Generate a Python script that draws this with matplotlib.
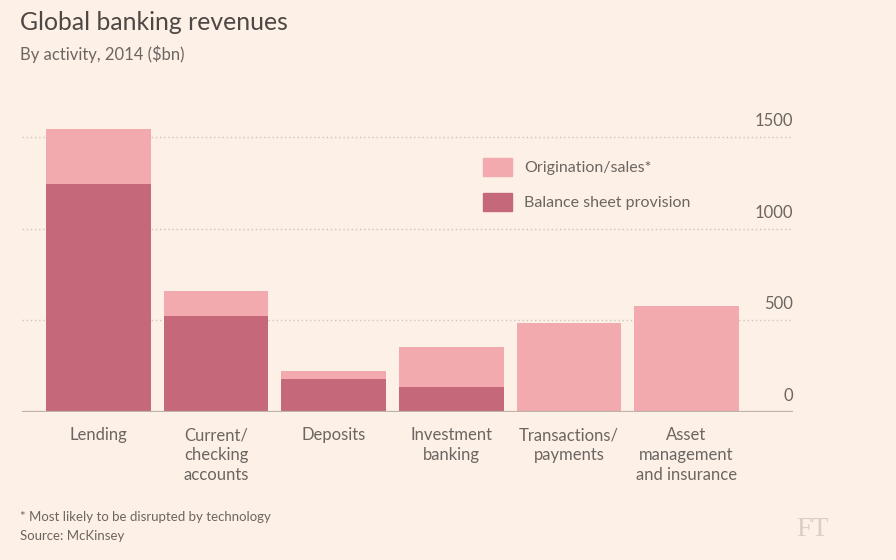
import matplotlib
matplotlib.use("Agg")
import matplotlib.pyplot as plt
import matplotlib.transforms as mtransforms
from matplotlib.patches import Rectangle

plt.rcParams['font.family'] = ['Lato', 'DejaVu Sans']

categories = ["Lending", "Current/\nchecking\naccounts", "Deposits", "Investment\nbanking",
              "Transactions/\npayments", "Asset\nmanagement\nand insurance"]
balance_sheet = [1243, 525, 177, 133, 0, 0]
origination = [303, 135, 45, 219, 486, 578]
yticks = [0, 500, 1000, 1500]
series_names = ["Origination/sales*", "Balance sheet provision"]

bg = "#fdf0e6"
light = "#f2aaae"
dark = "#c4687a"
text_col = "#6b6662"

fig = plt.figure(figsize=(8.96, 5.6), dpi=100, facecolor=bg)
ax = fig.add_axes([22/896, 1 - 411.7/560, (793 - 22)/896, (411.7 - 118.9)/560])
ax.set_facecolor(bg)

x = list(range(len(categories)))
ax.bar(x, balance_sheet, width=0.89, color=dark, zorder=3)
ax.bar(x, origination, bottom=balance_sheet, width=0.89, color=light, zorder=3)

ax.set_xlim(-0.65, 5.906)
ax.set_ylim(0, 1600)

for s in ax.spines.values():
    s.set_visible(False)
ax.set_xticks([])
ax.set_yticks([])

for v in yticks[1:]:
    ax.axhline(v, color="#cfc5bd", lw=1.0, ls=(0, (1, 2)), zorder=1)
ax.axhline(0, color="#bdb3ab", lw=1.6, zorder=4)

off = mtransforms.offset_copy(ax.get_yaxis_transform(), fig=fig, x=0, y=8, units='dots')
for v in yticks:
    ax.text(1.0, v, str(v), transform=off, ha='right', va='bottom',
            fontsize=12, color=text_col)

for xi, c in zip(x, categories):
    ax.text(xi, -0.053, c, transform=ax.get_xaxis_transform(), ha='center', va='top',
            fontsize=12, color=text_col, linespacing=1.3)

# legend
for i, (name, col) in enumerate(zip(series_names, [light, dark])):
    y0 = 158 + i * 35
    fig.patches.append(Rectangle((483/896, 1 - (y0 + 18)/560), 29/896, 18/560,
                                 transform=fig.transFigure, color=col))
    fig.text(524/896, 1 - (y0 + 10)/560, name, ha='left', va='center',
             fontsize=11.5, color=text_col)

fig.text(20/896, 1 - 23/560, "Global banking revenues", ha='left', va='center',
         fontsize=17.8, color="#4d4845")
fig.text(20/896, 1 - 54/560, "By activity, 2014 ($bn)", ha='left', va='center',
         fontsize=12, color=text_col)
fig.text(20/896, 1 - 517/560, "* Most likely to be disrupted by technology", ha='left',
         va='center', fontsize=9.5, color=text_col)
fig.text(20/896, 1 - 536/560, "Source: McKinsey", ha='left', va='center',
         fontsize=9.5, color=text_col)
fig.text(812/896, 1 - 530/560, "FT", ha='center', va='center', fontsize=20,
         color="#d8cfc7", family=['Liberation Serif', 'DejaVu Serif'])

fig.savefig("out.png", dpi=100, facecolor=bg)
